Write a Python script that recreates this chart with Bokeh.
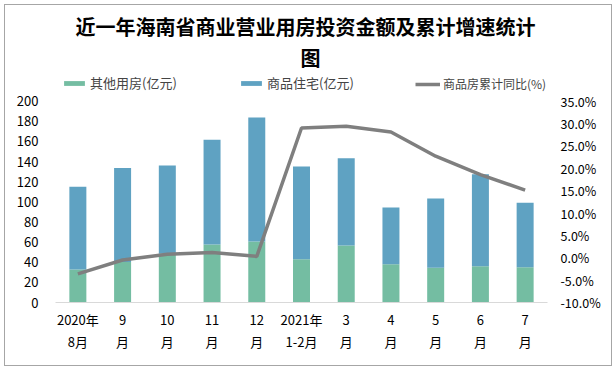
from bokeh.plotting import figure
from bokeh.models import (Range1d, LinearAxis, FixedTicker, PrintfTickFormatter,
                          Legend, LegendItem, Title, ColumnDataSource)
from bokeh.embed import file_html
from bokeh.resources import INLINE

categories = ["2020年\n8月", "9\n月", "10\n月", "11\n月", "12\n月", "2021年\n1-2月",
              "3\n月", "4\n月", "5\n月", "6\n月", "7\n月"]
other_use = [32.7, 40.2, 48.5, 57.7, 60.7, 42.9, 56.7, 37.9, 34.6, 35.9, 34.9]
residential = [82.4, 93.4, 87.5, 104.0, 123.1, 92.1, 86.5, 56.5, 68.7, 91.4, 64.1]
growth = [-3.6, -0.5, 0.8, 1.2, 0.3, 29.0, 29.4, 28.1, 22.7, 18.6, 15.1]
left_ticks = [0, 20, 40, 60, 80, 100, 120, 140, 160, 180, 200]
right_ticks = [-10, -5, 0, 5, 10, 15, 20, 25, 30, 35]

title_line1 = "近一年海南省商业营业用房投资金额及累计增速统计"
title_line2 = "图"
legend_labels = ["其他用房(亿元)", "商品住宅(亿元)", "商品房累计同比(%)"]

GREEN = "#74bda2"
BLUE = "#5fa2c2"
GRAY = "#7f7f7f"
FONT = "Noto Sans CJK SC"

# layout (pixels): frame extends above the 200 / 35% ticks to hold the legend
W, H = 616, 370
FR_LEFT, FR_RIGHT, FR_TOP, FR_BOTTOM = 55, 547, 71, 302
Y200_PX = 100.7
scale = (FR_BOTTOM - FR_TOP) / (FR_BOTTOM - Y200_PX)
left_top = left_ticks[0] + (left_ticks[-1] - left_ticks[0]) * scale
right_top = right_ticks[0] + (right_ticks[-1] - right_ticks[0]) * scale

xs = list(range(len(categories)))
src = ColumnDataSource(dict(x=xs, other=other_use, res=residential, g=growth))

p = figure(width=W, height=H, output_backend="svg", toolbar_location=None,
           x_range=Range1d(-0.5, len(categories) - 0.5),
           y_range=Range1d(left_ticks[0], left_top),
           min_border_left=FR_LEFT, min_border_right=W - FR_RIGHT,
           min_border_top=FR_TOP, min_border_bottom=H - FR_BOTTOM)
p.extra_y_ranges = {"pct": Range1d(right_ticks[0], right_top)}
p.outline_line_color = None
p.xgrid.grid_line_color = None
p.ygrid.grid_line_color = None
p.background_fill_color = "white"
p.border_fill_color = None
p.styles = {"background-color": "white",
            "box-shadow": "inset 0 0 0 4px white, inset 0 0 0 5px #a6a6a6"}

bars = p.vbar_stack(["other", "res"], x="x", width=0.38, color=[GREEN, BLUE],
                    line_color=None, source=src)
ln = p.line("x", "g", source=src, y_range_name="pct", line_color=GRAY, line_width=3.5)

# x axis
xa = p.xaxis[0]
xa.ticker = FixedTicker(ticks=xs)
xa.major_label_overrides = {i: c for i, c in enumerate(categories)}
xa.axis_line_color = "#d9d9d9"
xa.major_tick_line_color = None
xa.major_tick_out = 0
xa.minor_tick_line_color = None
xa.major_label_text_font = FONT
xa.major_label_text_font_size = "13px"
xa.major_label_text_color = "#000000"
xa.major_label_standoff = 7

# left axis
ya = p.yaxis[0]
ya.ticker = FixedTicker(ticks=left_ticks)
ya.axis_line_color = None
ya.major_tick_line_color = None
ya.major_tick_out = 0
ya.minor_tick_line_color = None
ya.major_label_text_font = FONT
ya.major_label_text_font_size = "13px"
ya.major_label_text_color = "#000000"
ya.major_label_standoff = 17

ra = LinearAxis(y_range_name="pct", ticker=FixedTicker(ticks=right_ticks),
                formatter=PrintfTickFormatter(format="%.1f%%"))
ra.axis_line_color = None
ra.major_tick_line_color = None
ra.major_tick_out = 0
ra.minor_tick_line_color = None
ra.major_label_text_font = FONT
ra.major_label_text_font_size = "12.5px"
ra.major_label_text_color = "#000000"
ra.major_label_standoff = 13
p.add_layout(ra, "right")

common = dict(orientation="horizontal", padding=0, margin=0, border_line_color=None,
              background_fill_alpha=0, label_text_font=FONT, label_standoff=3,
              label_height=14, glyph_height=6)
legend_bars = Legend(items=[LegendItem(label=legend_labels[0], renderers=[bars[0]]),
                            LegendItem(label=legend_labels[1], renderers=[bars[1]])],
                     location=(6, 210), glyph_width=26, label_width=138, spacing=10,
                     label_text_font_size="13px", **common)
legend_line = Legend(items=[LegendItem(label=legend_labels[2], renderers=[ln])],
                     location=(360, 210), glyph_width=25,
                     label_text_font_size="12px", **common)
p.add_layout(legend_bars, "center")
p.add_layout(legend_line, "center")

p.add_layout(Title(text=title_line2, align="left", offset=245, text_font=FONT,
                   text_font_size="20px", text_font_style="bold",
                   text_color="#000000", standoff=0, text_line_height=0.85), "above")
p.add_layout(Title(text=title_line1, align="left", offset=20, text_font=FONT,
                   text_font_size="20px", text_font_style="bold",
                   text_color="#000000", standoff=0), "above")

open("out.html", "w").write(file_html(p, INLINE))
